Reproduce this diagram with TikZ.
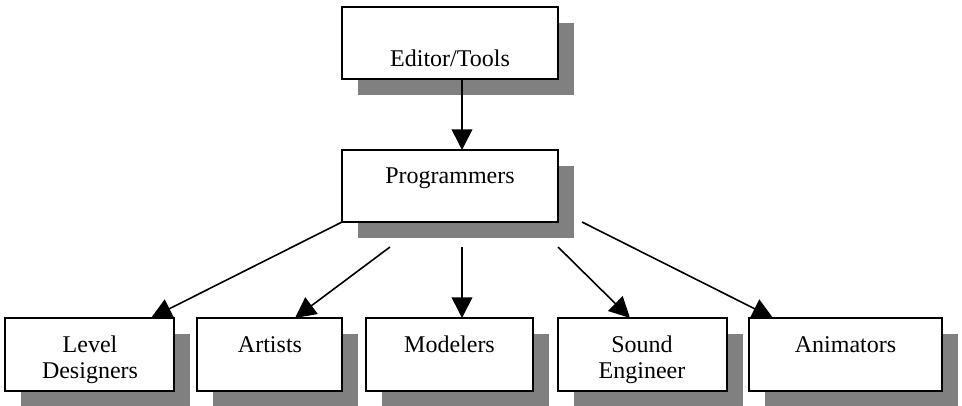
\documentclass[tikz,border=0pt]{standalone}
\usepackage{fontspec}
\setmainfont{Liberation Serif}
\usetikzlibrary{arrows.meta}
\definecolor{shadowgray}{RGB}{128,128,128}
\begin{document}
\begin{tikzpicture}[x=0.75pt,y=-0.75pt,
  box/.style={draw=black,fill=white,line width=1.5pt,rectangle,inner sep=0pt},
  shadowbox/.style={fill=shadowgray,draw=none,rectangle,inner sep=0pt},
  lbl/.style={font=\fontsize{18}{19.5}\selectfont,inner sep=0pt,anchor=base,align=center},
  conn/.style={line width=1.2pt,-{Triangle[length=15.5pt,width=15.5pt]}}]
\useasboundingbox (0,0) rectangle (962,406);
% shadows
\foreach \cx/\cy/\w/\h in {450/43/216/72, 450/186/216/72, 89.5/354.5/169/73, 269.5/354.5/145/73, 449.5/354.5/167/73, 642.5/354.5/169/73, 845.5/354.5/193/73}
  \node[shadowbox,minimum width=\w*0.75pt,minimum height=\h*0.75pt] at (\cx+16,\cy+16) {};
% boxes
\node[box,minimum width=162pt,minimum height=54pt] (ed) at (450,43) {};
\node[box,minimum width=162pt,minimum height=54pt] (pr) at (450,186) {};
\node[box,minimum width=126.75pt,minimum height=54.75pt] (ld) at (89.5,354.5) {};
\node[box,minimum width=108.75pt,minimum height=54.75pt] (ar) at (269.5,354.5) {};
\node[box,minimum width=125.25pt,minimum height=54.75pt] (mo) at (449.5,354.5) {};
\node[box,minimum width=126.75pt,minimum height=54.75pt] (se) at (642.5,354.5) {};
\node[box,minimum width=144.75pt,minimum height=54.75pt] (an) at (845.5,354.5) {};
% labels
\node[lbl] (edt) at (450,67) {Editor/Tools};
\node[lbl] (prt) at (450,183) {Programmers};
\node[lbl] (ldt1) at (90,352) {Level};
\node[lbl] (ldt2) at (90,378) {Designers};
\node[lbl] (art) at (270,352) {Artists};
\node[lbl] (mot) at (449.5,352) {Modelers};
\node[lbl] (set1) at (642,352) {Sound};
\node[lbl] (set2) at (642,378) {Engineer};
\node[lbl] (ant) at (845.5,352) {Animators};
% connector end points
\coordinate (edS) at (462,79);
\coordinate (prN) at (462,150);
\coordinate (sLd) at (342,222);
\coordinate (sAr) at (390,247);
\coordinate (sMo) at (462,247);
\coordinate (sSe) at (558,247);
\coordinate (sAn) at (582,222);
\coordinate (tLd) at (151,318);
\coordinate (tAr) at (295,318);
\coordinate (tMo) at (462,318);
\coordinate (tSe) at (630,318);
\coordinate (tAn) at (773,318);
% connectors
\draw[conn] (edS) -- (prN);
\draw[conn] (sLd) -- (tLd);
\draw[conn] (sAr) -- (tAr);
\draw[conn] (sMo) -- (tMo);
\draw[conn] (sSe) -- (tSe);
\draw[conn] (sAn) -- (tAn);
\end{tikzpicture}
\end{document}
